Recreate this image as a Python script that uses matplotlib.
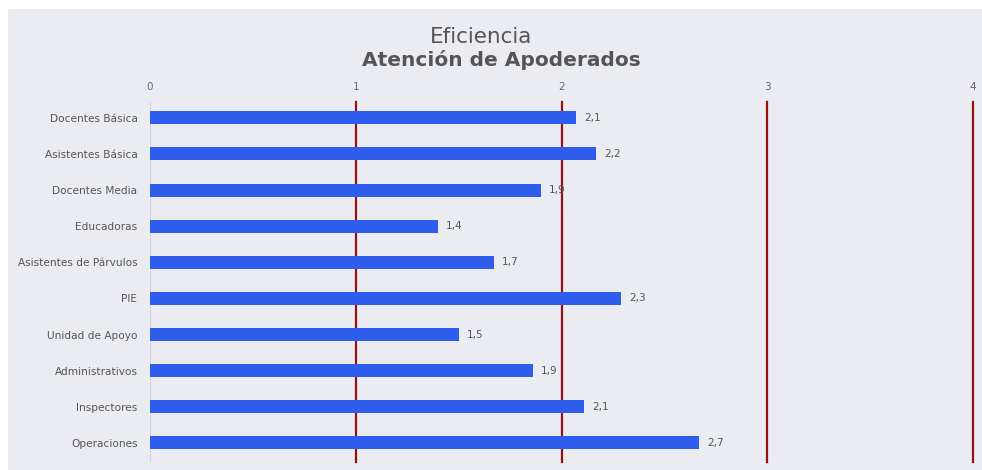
import matplotlib
matplotlib.use("Agg")
import matplotlib.pyplot as plt
from matplotlib.patches import Rectangle

categories = ["Docentes Básica", "Asistentes Básica", "Docentes Media", "Educadoras",
              "Asistentes de Párvulos", "PIE", "Unidad de Apoyo", "Administrativos",
              "Inspectores", "Operaciones"]
values = [2.07, 2.17, 1.90, 1.40, 1.67, 2.29, 1.50, 1.86, 2.11, 2.67]
x_ticks = [0, 1, 2, 3, 4]
ref_lines = [1, 2, 3, 4]
title_top = "Eficiencia"
title_main = "Atención de Apoderados"

plt.rcParams['font.family'] = ['DejaVu Sans']

fig = plt.figure(figsize=(9.82, 4.70), dpi=100, facecolor="white")
fig.patches.append(Rectangle((8 / 982, 0), 1 - 8 / 982, 1 - 9 / 470,
                             transform=fig.transFigure, facecolor="#EBECF2",
                             edgecolor="none", zorder=-10))

ax = fig.add_axes([150 / 982, 8 / 470, 823 / 982, 360 / 470])
ax.set_facecolor("none")
ax.set_zorder(1)

y = list(range(len(categories)))
ax.barh(y, values, height=0.36, color="#2F5DEB", zorder=3)

for v in ref_lines:
    ax.axvline(v, color="#961010", lw=1.6, zorder=2, clip_on=False)
ax.axvline(0, color="#D3D5DC", lw=0.8, zorder=1)

for yi, v in zip(y, values):
    ax.text(v + 0.04, yi, f"{v:.1f}".replace(".", ","), va="center", ha="left",
            fontsize=7.5, color="#555555", zorder=4)

ax.set_xlim(0, 4)
ax.set_ylim(9.53, -0.44)
ax.set_yticks(y)
ax.set_yticklabels(categories, fontsize=7.6, color="#555555")
ax.set_xticks(x_ticks)
ax.set_xticklabels([str(t) for t in x_ticks], fontsize=7.5, color="#666666")
ax.xaxis.tick_top()
ax.tick_params(axis="both", length=0)
ax.tick_params(axis="x", pad=7)
ax.tick_params(axis="y", pad=9)
for s in ax.spines.values():
    s.set_visible(False)

fig.text(481 / 982, 1 - 37 / 470, title_top, ha="center", va="center",
         fontsize=15.5, color="#555555")
fig.text(501 / 982, 1 - 60 / 470, title_main, ha="center", va="center",
         fontsize=14.5, fontweight="bold", color="#555555")

fig.savefig("out.png", dpi=100, facecolor="white")
